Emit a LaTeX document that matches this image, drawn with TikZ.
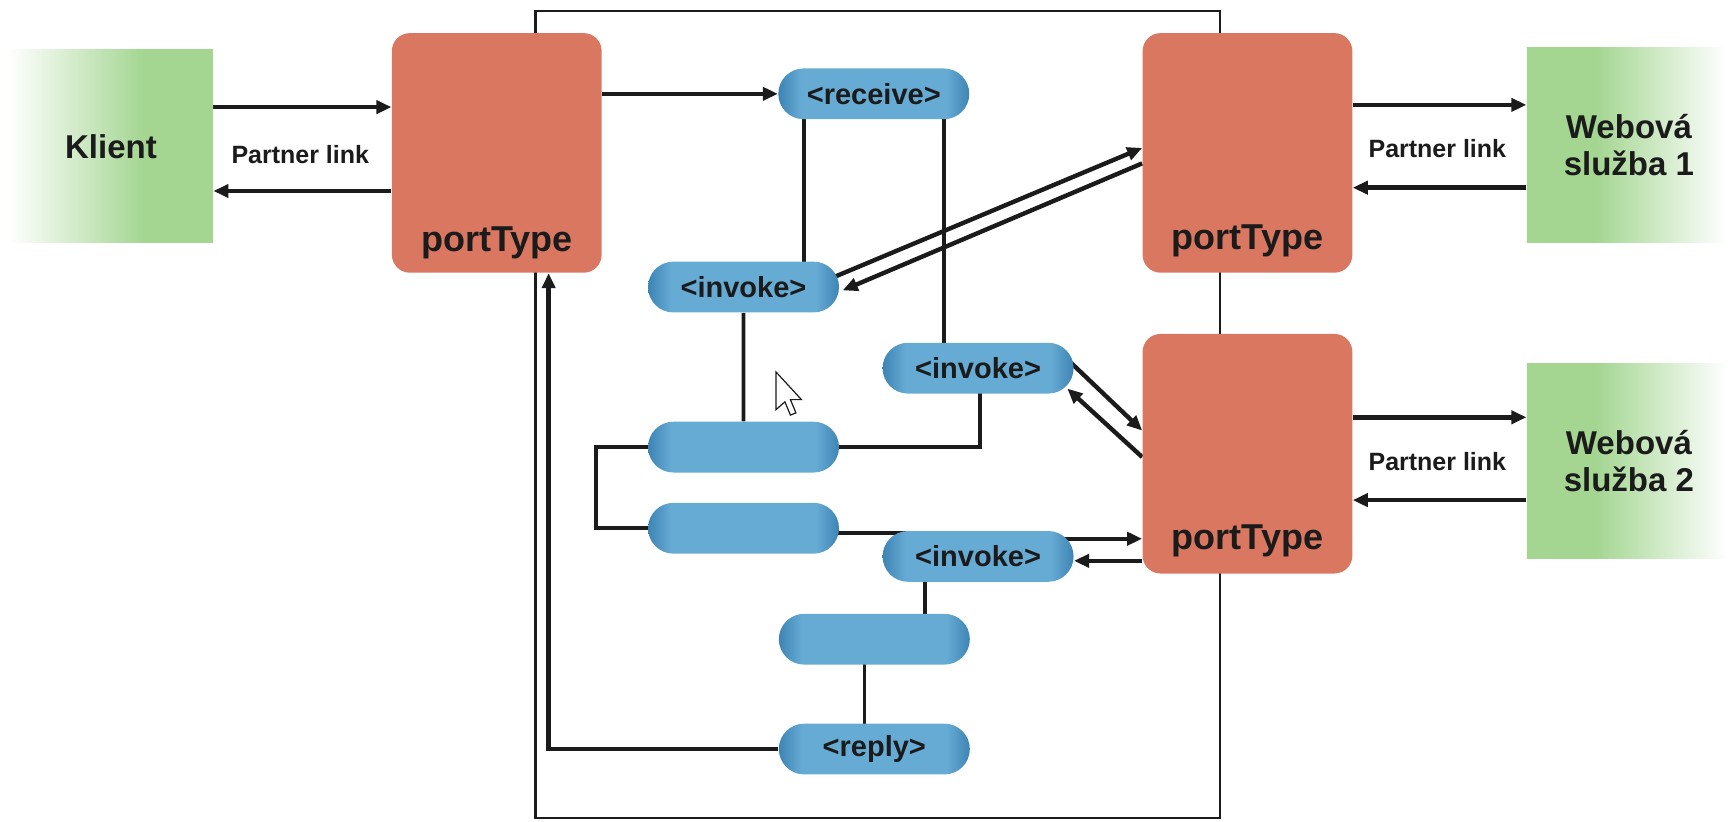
\documentclass[tikz,border=0pt]{standalone}
\usepackage{fontspec}
\setmainfont{Liberation Sans}
\usetikzlibrary{arrows.meta,shapes.misc,backgrounds}

\definecolor{salmon}{RGB}{218,119,97}
\definecolor{pillL}{RGB}{102,171,212}
\definecolor{pillD}{RGB}{62,132,180}
\definecolor{grn}{RGB}{164,214,146}
\definecolor{ink}{RGB}{27,27,27}

\pgfdeclarehorizontalshading{pillsh}{100bp}{color(0bp)=(pillD); color(25bp)=(pillD); color(31bp)=(pillL); color(69bp)=(pillL); color(75bp)=(pillD); color(100bp)=(pillD)}
\pgfdeclarehorizontalshading{klsh}{100bp}{color(0bp)=(white); color(25bp)=(white); color(58bp)=(grn); color(100bp)=(grn)}
\pgfdeclarehorizontalshading{wssh}{100bp}{color(0bp)=(grn); color(25bp)=(grn); color(42bp)=(grn); color(74bp)=(white); color(100bp)=(white)}

\newcommand\ptfont{\fontsize{18}{20}\selectfont\bfseries}
\newcommand\pillfont{\fontsize{14.5}{16}\selectfont\bfseries}
\newcommand\plfont{\fontsize{12.5}{14}\selectfont\bfseries}
\newcommand\boxfont{\fontsize{16.5}{18.5}\selectfont\bfseries}

\tikzset{
  pt/.style={rectangle, rounded corners=9pt, fill=salmon, minimum width=104.9pt, minimum height=119.8pt, inner sep=0pt},
  ptlbl/.style={font=\ptfont, text=ink, inner sep=0pt},
  pill/.style={rounded rectangle, shading=pillsh, minimum width=95.5pt, minimum height=25.4pt, inner sep=0pt, font=\pillfont, text=ink},
  klbox/.style={rectangle, shading=klsh, minimum width=102.1pt, minimum height=96.6pt, inner sep=0pt, font=\boxfont, text=ink, align=center},
  wsbox/.style={rectangle, shading=wssh, minimum width=102.1pt, minimum height=97.7pt, inner sep=0pt, font=\boxfont, text=ink, align=center},
  plink/.style={font=\plfont, text=ink, inner sep=0pt},
  arr/.style={draw=ink, line width=2.2pt, -{Triangle[length=7.5pt,width=6.5pt]}},
  ln/.style={draw=ink, line width=1.9pt},
  frame/.style={draw=ink, line width=1.3pt}
}

\begin{document}
\begin{tikzpicture}[x=0.552pt,y=-0.552pt]
\useasboundingbox (0,0) rectangle (1568,744);

% container frame
\draw[frame] (485,10) rectangle (1105,741);

% boxes
\node[klbox] (k) at (100.5,132.5) {Klient};
\node[wsbox] (w1) at (1475.5,131.5) {Webová\\služba 1};
\node[wsbox] (w2) at (1475.5,417.5) {Webová\\služba 2};

\node[pt] (pL) at (450,138.5) {};
\node[pt] (p1) at (1130,138.5) {};
\node[pt] (p2) at (1130,411) {};
\node[ptlbl] (pLt) at ([yshift=15pt]pL.south) {portType};
\node[ptlbl] (p1t) at ([yshift=16pt]p1.south) {portType};
\node[ptlbl] (p2t) at ([yshift=16.5pt]p2.south) {portType};

\node[pill] (rec) at (791.5,85) {<receive>};
\node[pill] (inv1) at (673.5,260) {<invoke>};
\node[pill] (inv2) at (886,333.5) {<invoke>};
\node[pill] (b1) at (673.5,405) {};
\node[pill] (b2) at (673.5,478.5) {};
\node[pill] (inv3) at (886,504) {<invoke>};
\node[pill] (b3) at (792,579) {};
\node[pill] (rep) at (792,678.5) {<reply>};

\node[plink] (pl0) at (272,140) {Partner link};
\node[plink] (pl1) at (1302,135) {Partner link};
\node[plink] (pl2) at (1302,418) {Partner link};

% mouse cursor
\draw[fill=white, draw=ink, line width=0.6pt, line join=miter] (703,337) -- ++(0,34) -- ++(8,-7) -- ++(5,12) -- ++(5,-2) -- ++(-5,-12) -- ++(10,0) -- cycle;

\begin{pgfonlayer}{background}
  % partner links
  \draw[arr] (k.east |- 0,97) -- (pL.west |- 0,97);
  \draw[arr] (pL.west |- 0,173) -- (k.east |- 0,173);
  \draw[arr] (p1.east |- 0,95) -- (w1.west |- 0,95);
  \draw[arr] (w1.west |- 0,170) -- (p1.east |- 0,170);
  \draw[arr] (p2.east |- 0,378) -- (w2.west |- 0,378);
  \draw[arr] (w2.west |- 0,453) -- (p2.east |- 0,453);

  % process flow
  \draw[arr] (pL.east |- 0,85) -- (rec.west);
  \draw[ln] (rec -| 728,0) -- (inv1 -| 728,0);
  \draw[ln] (rec -| 855,0) -- (inv2 -| 855,0);
  \draw[ln] (inv1) -- (b1);
  \draw[ln] (inv2 -| 888,0) |- (b1);
  \draw[ln] (b1) -- ++(-133.5,0) |- (b2);
  \draw[ln] (b2 |- 0,483) -- (inv3 |- 0,483);
  \draw[ln] (inv3 -| 838,0) -- (b3 -| 838,0);
  \draw[ln] (b3 -| 783,0) -- (rep -| 783,0);
  \draw[arr] (rep) -| (pL.south -| 497,0);

  % invokes to services
  \draw[arr] ([shift={(-5,-9)}]inv1.east) -- (p1.west |- 0,134);
  \draw[arr] (p1.west |- 0,148) -- ([shift={(3,3)}]inv1.east);
  \draw[arr] ([shift={(-6,-8)}]inv2.east) -- (p2.west |- 0,390);
  \draw[arr] (p2.west |- 0,414) -- ([shift={(-6,18.5)}]inv2.east);
  \draw[arr] (inv3 |- 0,488) -- (p2.west |- 0,488);
  \draw[arr] (p2.west |- 0,508) -- (inv3.east |- 0,508);
\end{pgfonlayer}
\end{tikzpicture}
\end{document}
